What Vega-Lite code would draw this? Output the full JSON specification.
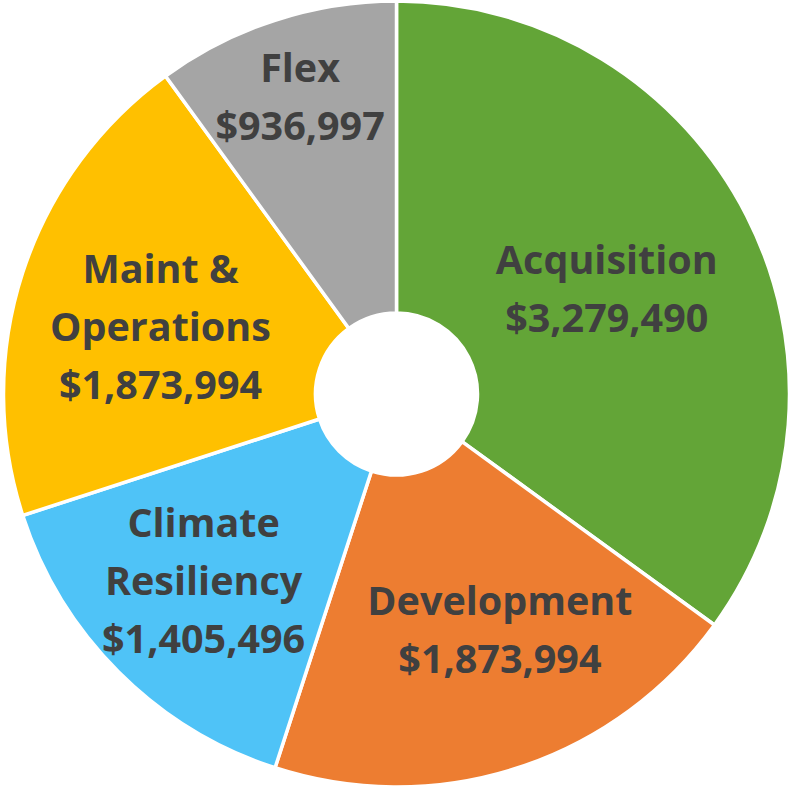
{
  "$schema": "https://vega.github.io/schema/vega-lite/v6.json",
  "width": 793,
  "height": 788,
  "autosize": {"type": "fit", "contains": "padding"},
  "padding": 0,
  "background": "white",
  "config": {"view": {"stroke": null}},
  "data": {
    "values": [
      {"cat": "Acquisition", "label": ["Acquisition", "$3,279,490"], "value": 3279490, "idx": 1},
      {"cat": "Development", "label": ["Development", "$1,873,994"], "value": 1873994, "idx": 2},
      {"cat": "Climate Resiliency", "label": ["Climate", "Resiliency", "$1,405,496"], "value": 1405496, "idx": 3},
      {"cat": "Maint & Operations", "label": ["Maint &", "Operations", "$1,873,994"], "value": 1873994, "idx": 4},
      {"cat": "Flex", "label": ["Flex", "$936,997"], "value": 936997, "idx": 5}
    ]
  },
  "encoding": {
    "theta": {"field": "value", "type": "quantitative", "stack": true},
    "order": {"field": "idx", "type": "quantitative"}
  },
  "layer": [
    {
      "mark": {"type": "arc", "outerRadius": 393, "innerRadius": 81, "stroke": "white", "strokeWidth": 3.5},
      "encoding": {
        "color": {
          "field": "cat", "type": "nominal", "legend": null,
          "scale": {
            "domain": ["Acquisition", "Development", "Climate Resiliency", "Maint & Operations", "Flex"],
            "range": ["#63A537", "#ED7D31", "#4FC3F7", "#FFC000", "#A5A5A5"]
          }
        }
      }
    },
    {
      "mark": {"type": "text", "radius": 236, "dy": -25, "font": "Open Sans", "fontWeight": "bold", "fontSize": 39.5, "lineHeight": 58, "color": "#404040", "baseline": "middle", "align": "center"},
      "encoding": {"text": {"condition": {"test": "datum.cat === 'Acquisition'", "field": "label"}, "value": ""}}
    },
    {
      "mark": {"type": "text", "radius": 257, "dx": 24, "dy": -35, "font": "Open Sans", "fontWeight": "bold", "fontSize": 39.5, "lineHeight": 58, "color": "#404040", "baseline": "middle", "align": "center"},
      "encoding": {"text": {"condition": {"test": "datum.cat === 'Development'", "field": "label"}, "value": ""}}
    },
    {
      "mark": {"type": "text", "radius": 270, "dx": -2, "dy": -60, "font": "Open Sans", "fontWeight": "bold", "fontSize": 39.5, "lineHeight": 58, "color": "#404040", "baseline": "middle", "align": "center"},
      "encoding": {"text": {"condition": {"test": "datum.cat === 'Climate Resiliency'", "field": "label"}, "value": ""}}
    },
    {
      "mark": {"type": "text", "radius": 245, "dx": -3, "dy": -47, "font": "Open Sans", "fontWeight": "bold", "fontSize": 39.5, "lineHeight": 58, "color": "#404040", "baseline": "middle", "align": "center"},
      "encoding": {"text": {"condition": {"test": "datum.cat === 'Maint & Operations'", "field": "label"}, "value": ""}}
    },
    {
      "mark": {"type": "text", "radius": 312, "dy": -27, "font": "Open Sans", "fontWeight": "bold", "fontSize": 39.5, "lineHeight": 58, "color": "#404040", "baseline": "middle", "align": "center"},
      "encoding": {"text": {"condition": {"test": "datum.cat === 'Flex'", "field": "label"}, "value": ""}}
    }
  ]
}
